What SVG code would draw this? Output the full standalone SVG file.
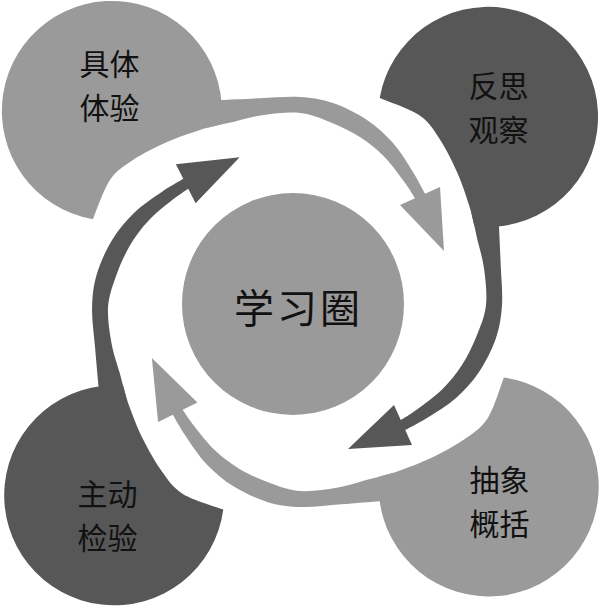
<svg xmlns="http://www.w3.org/2000/svg" xmlns:xlink="http://www.w3.org/1999/xlink" width="600" height="610" viewBox="0 0 600 610">
<style>
.light{fill:#9a9a9a}
.dark{fill:#575757}
.lbl{font-family:"Noto Sans CJK SC","Noto Sans CJK JP",sans-serif;font-size:30px;fill:#111;text-anchor:middle}
.ctr{font-size:40px;letter-spacing:3px}
</style>
<defs>
<path id="nodeShape" d="M92.9,219.3 A110,110 0 1 1 221,124.6 C217.5,125.5 209,127.1 200,130 C191,132.9 178.2,137 167,142 C155.8,147 142.5,153.7 133,160 C123.5,166.3 116.7,170.1 110,180 C103.3,189.9 95.75,212.75 92.9,219.3 Z"/>
<path id="tailShape" d="M205,101 L221.5,100 C227.9,99.7 246.9,98.8 260,98.3 C273.1,97.8 287.8,96.2 300,97 C312.2,97.8 321.8,99.2 333,103 C344.2,106.8 357,113.3 367,120 C377,126.7 385.3,134.3 393,143 C400.7,151.7 407.7,163.5 413,172 C418.3,180.5 423,190.1 425,193.75 L440,187 L444,251 L400,205 L415,198.25 C413.28,195.61 409.78,189.29 404.7,182.4 C399.62,175.51 391.9,164.43 384.5,156.9 C377.1,149.37 369.43,143.03 360.3,137.2 C351.17,131.37 339.75,125.93 329.7,121.9 C319.65,117.87 310.95,114.17 300,113 C289.05,111.83 275.17,113.4 264,114.9 C252.83,116.4 240.17,120.38 233,122 C228.83,122.92 225.17,123.68 221,124.6 L208,127.5 Z"/>
</defs>
<g id="node-concrete-experience">
<use xlink:href="#nodeShape" class="light"/>
<text class="lbl" x="109.5" y="74.5">具体</text>
<text class="lbl" x="109.5" y="118.5">体验</text>
</g>
<g id="node-reflective-observation">
<use xlink:href="#nodeShape" class="dark" transform="rotate(90 297 302)"/>
<text class="lbl" x="498.5" y="97">反思</text>
<text class="lbl" x="498.5" y="141">观察</text>
</g>
<g id="node-abstract-conceptualization">
<use xlink:href="#nodeShape" class="light" transform="rotate(178 297 302)"/>
<text class="lbl" x="499.5" y="491">抽象</text>
<text class="lbl" x="499.5" y="535">概括</text>
</g>
<g id="node-active-experimentation">
<use xlink:href="#nodeShape" class="dark" transform="rotate(-92.5 297 302)"/>
<text class="lbl" x="107.5" y="505">主动</text>
<text class="lbl" x="107.5" y="549">检验</text>
</g>
<g id="connectors">
<use xlink:href="#tailShape" class="light"/>
<use xlink:href="#tailShape" class="dark" transform="rotate(90 297 302)"/>
<use xlink:href="#tailShape" class="light" transform="rotate(178 297 302)"/>
<use xlink:href="#tailShape" class="dark" transform="rotate(-92.5 297 302)"/>
</g>
<g id="node-learning-cycle">
<circle cx="293" cy="304" r="111" class="light"/>
<text class="lbl ctr" x="298.5" y="322.5">学习圈</text>
</g>
</svg>
